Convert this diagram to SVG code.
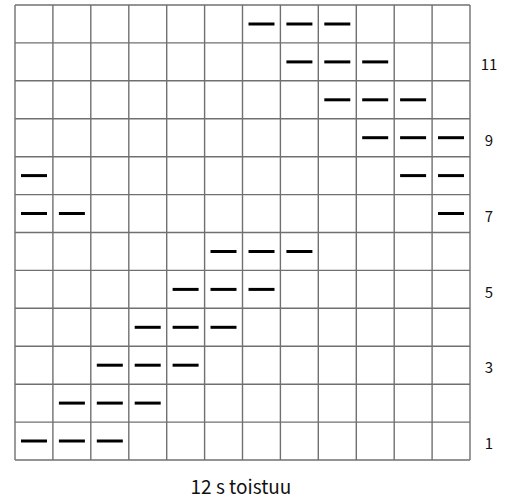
<svg xmlns="http://www.w3.org/2000/svg" width="509" height="500" viewBox="0 0 509 500">
<style>
.grid line{stroke:#707070;stroke-width:1.4}
.d{stroke:#000;stroke-width:3;stroke-linecap:butt}
.lbl{font-family:"Noto Sans CJK SC","Noto Sans",sans-serif;font-size:15px;fill:#111;text-anchor:middle}
.cap{font-family:"Noto Sans CJK SC","Noto Sans",sans-serif;font-size:19px;fill:#111;text-anchor:middle}
</style>
<defs>
<line id="dash" x1="-13" y1="0" x2="13" y2="0" class="d"/>
</defs>
<rect x="0" y="0" width="509" height="500" fill="#fff"/>
<g id="grid" class="grid">
<line x1="15" y1="5" x2="15" y2="460"/>
<line x1="52.9" y1="5" x2="52.9" y2="460"/>
<line x1="90.8" y1="5" x2="90.8" y2="460"/>
<line x1="128.8" y1="5" x2="128.8" y2="460"/>
<line x1="166.7" y1="5" x2="166.7" y2="460"/>
<line x1="204.6" y1="5" x2="204.6" y2="460"/>
<line x1="242.5" y1="5" x2="242.5" y2="460"/>
<line x1="280.4" y1="5" x2="280.4" y2="460"/>
<line x1="318.3" y1="5" x2="318.3" y2="460"/>
<line x1="356.3" y1="5" x2="356.3" y2="460"/>
<line x1="394.2" y1="5" x2="394.2" y2="460"/>
<line x1="432.1" y1="5" x2="432.1" y2="460"/>
<line x1="470" y1="5" x2="470" y2="460"/>
<line x1="15" y1="5" x2="470" y2="5"/>
<line x1="15" y1="42.9" x2="470" y2="42.9"/>
<line x1="15" y1="80.8" x2="470" y2="80.8"/>
<line x1="15" y1="118.8" x2="470" y2="118.8"/>
<line x1="15" y1="156.7" x2="470" y2="156.7"/>
<line x1="15" y1="194.6" x2="470" y2="194.6"/>
<line x1="15" y1="232.5" x2="470" y2="232.5"/>
<line x1="15" y1="270.4" x2="470" y2="270.4"/>
<line x1="15" y1="308.3" x2="470" y2="308.3"/>
<line x1="15" y1="346.3" x2="470" y2="346.3"/>
<line x1="15" y1="384.2" x2="470" y2="384.2"/>
<line x1="15" y1="422.1" x2="470" y2="422.1"/>
<line x1="15" y1="460" x2="470" y2="460"/>
</g>
<g id="dashes">
<use href="#dash" x="261.5" y="24"/><use href="#dash" x="299.4" y="24"/><use href="#dash" x="337.3" y="24"/>
<use href="#dash" x="299.4" y="61.9"/><use href="#dash" x="337.3" y="61.9"/><use href="#dash" x="375.2" y="61.9"/>
<use href="#dash" x="337.3" y="99.8"/><use href="#dash" x="375.2" y="99.8"/><use href="#dash" x="413.1" y="99.8"/>
<use href="#dash" x="375.2" y="137.7"/><use href="#dash" x="413.1" y="137.7"/><use href="#dash" x="451" y="137.7"/>
<use href="#dash" x="34" y="175.6"/><use href="#dash" x="413.1" y="175.6"/><use href="#dash" x="451" y="175.6"/>
<use href="#dash" x="34" y="213.5"/><use href="#dash" x="71.9" y="213.5"/><use href="#dash" x="451" y="213.5"/>
<use href="#dash" x="223.5" y="251.5"/><use href="#dash" x="261.5" y="251.5"/><use href="#dash" x="299.4" y="251.5"/>
<use href="#dash" x="185.6" y="289.4"/><use href="#dash" x="223.5" y="289.4"/><use href="#dash" x="261.5" y="289.4"/>
<use href="#dash" x="147.7" y="327.3"/><use href="#dash" x="185.6" y="327.3"/><use href="#dash" x="223.5" y="327.3"/>
<use href="#dash" x="109.8" y="365.2"/><use href="#dash" x="147.7" y="365.2"/><use href="#dash" x="185.6" y="365.2"/>
<use href="#dash" x="71.9" y="403.1"/><use href="#dash" x="109.8" y="403.1"/><use href="#dash" x="147.7" y="403.1"/>
<use href="#dash" x="34" y="441"/><use href="#dash" x="71.9" y="441"/><use href="#dash" x="109.8" y="441"/>
</g>
<g id="labels">
<text class="lbl" x="489" y="70">11</text>
<text class="lbl" x="489" y="145.8">9</text>
<text class="lbl" x="489" y="221.6">7</text>
<text class="lbl" x="489" y="297.5">5</text>
<text class="lbl" x="489" y="373.3">3</text>
<text class="lbl" x="489" y="449">1</text>
<text class="cap" x="241" y="494">12 s toistuu</text>
</g>
</svg>
